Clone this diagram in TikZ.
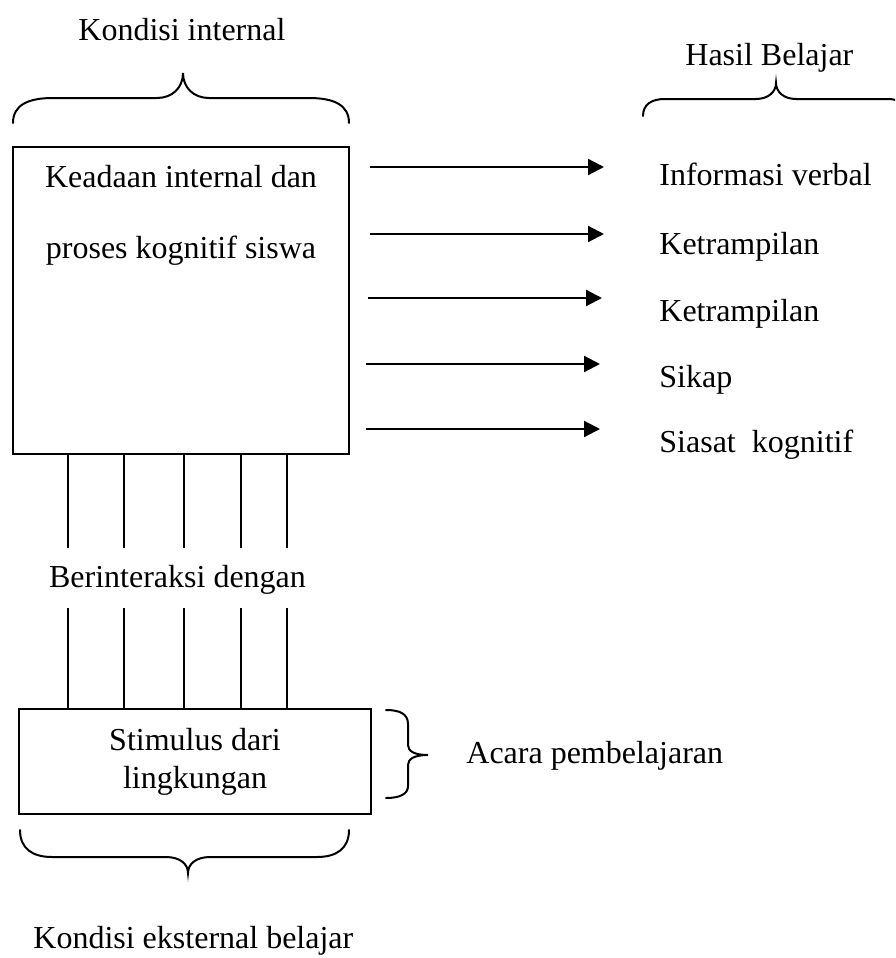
\documentclass[tikz,border=0pt]{standalone}
\usepackage{fontspec}
\setmainfont{Liberation Serif}
\usetikzlibrary{arrows.meta}
\begin{document}
\begin{tikzpicture}[x=0.5pt,y=-0.5pt,
  every node/.style={font=\fontsize{16pt}{19pt}\selectfont, inner sep=0pt},
  lbl/.style={anchor=base west},
  clbl/.style={anchor=base},
  boxnode/.style={draw, line width=1pt},
  brace/.style={line width=1pt, line cap=round},
  arr/.style={line width=1.1pt, -{Triangle[length=8pt,width=8pt]}},
  vline/.style={line width=0.8pt}]
\useasboundingbox (0,0) rectangle (895,958);
\clip (0,0) rectangle (895,958);

% labels
\node[lbl] (ki) at (78,40) {Kondisi internal};
\node[lbl] (hb) at (685,65) {Hasil Belajar};

% top braces
\draw[brace] (13,123) .. controls (13,105) and (28,98) .. (53,98) -- (157,98)
  .. controls (172,98) and (183,88) .. (183,73)
  .. controls (183,88) and (194,98) .. (209,98) -- (309,98)
  .. controls (334,98) and (349,105) .. (349,123);
\draw[brace] (643,116) .. controls (643,104) and (652,99) .. (665,99) -- (756,99)
  .. controls (768,99) and (776,92) .. (776,83)
  .. controls (776,92) and (784,99) .. (796,99) -- (887,99)
  .. controls (900,99) and (909,104) .. (909,116);

% main box
\node[boxnode, minimum width=168pt, minimum height=153.5pt] (kbox) at (181,300.5) {};
\node[clbl] (t1) at (181,187) {Keadaan internal dan};
\node[clbl] (t2) at (181,258) {proses kognitif siswa};

% arrows and outcomes
\coordinate (s1) at (370,167); \coordinate (e1) at (604,167);
\coordinate (s2) at (370,234); \coordinate (e2) at (604,234);
\coordinate (s3) at (368,298); \coordinate (e3) at (602,298);
\coordinate (s4) at (366,364); \coordinate (e4) at (600,364);
\coordinate (s5) at (366,429); \coordinate (e5) at (600,429);
\foreach \i in {1,...,5} { \draw[arr] (s\i) -- (e\i); }
\node[lbl] (o1) at (659,185) {Informasi verbal};
\node[lbl] (o2) at (659,254) {Ketrampilan};
\node[lbl] (o3) at (659,321) {Ketrampilan};
\node[lbl] (o4) at (659,387) {Sikap};
\node[lbl] (o5) at (659,452) {Siasat\ \ kognitif};

% interaction lines
\node[clbl] (bd) at (177.5,587) {Berinteraksi dengan};
\node[boxnode, minimum width=176pt, minimum height=52.5pt] (sbox) at (195,761.5) {};
\foreach \x [count=\i] in {68,124,184,241,287} {
  \coordinate (u\i) at (\x,548);
  \coordinate (l\i) at (\x,608);
  \draw[vline] (\x,454) -- (u\i);
  \draw[vline] (l\i) -- (\x,709);
}
\node[clbl] (st1) at (195,750) {Stimulus dari};
\node[clbl] (st2) at (195,788) {lingkungan};

% small right brace
\draw[brace] (386,710) .. controls (400,710) and (408,714) .. (408,724) -- (408,745)
  .. controls (408,751) and (414,755) .. (428,755)
  .. controls (414,755) and (408,759) .. (408,765) -- (408,786)
  .. controls (408,794) and (400,798) .. (386,798);
\node[lbl] (ap) at (466,763) {Acara pembelajaran};

% bottom brace
\draw[brace] (20,830) .. controls (20,849) and (33,857) .. (52,857) -- (166,857)
  .. controls (180,857) and (188,864) .. (188,873)
  .. controls (188,864) and (196,857) .. (210,857) -- (317,857)
  .. controls (336,857) and (349,849) .. (349,830);
\node[lbl] (ke) at (33,948) {Kondisi eksternal belajar};
\end{tikzpicture}
\end{document}
